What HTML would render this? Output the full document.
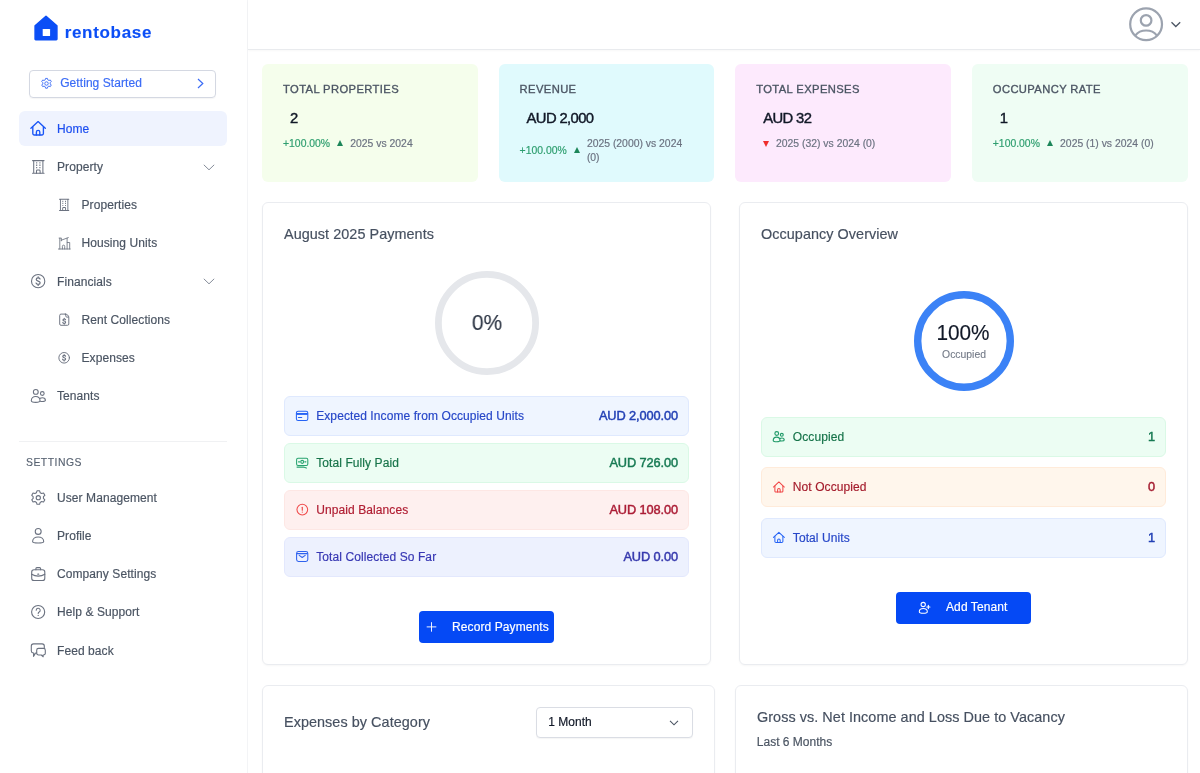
<!DOCTYPE html>
<html lang="en">
<head>
<meta charset="utf-8">
<title>Rentobase</title>
<style>
*{box-sizing:border-box;margin:0;padding:0}
html,body{width:1200px;height:773px;overflow:hidden;background:#fff}
body{font-family:"Liberation Sans",sans-serif;font-size:12px;color:#4b5563;position:relative;-webkit-text-stroke:.18px currentColor}
.abs{position:absolute}
svg{display:block;overflow:visible}
/* ---------- sidebar ---------- */
#side{position:absolute;left:0;top:0;width:248px;height:773px;border-right:1px solid #f3f4f6;background:#fff}
.logo-t{position:absolute;left:64.7px;top:22.5px;font-size:17px;font-weight:bold;color:#0b4ef6;letter-spacing:.68px;line-height:20px;-webkit-text-stroke:.12px #0b4ef6}
.gs{position:absolute;left:29.4px;top:69.6px;width:186.6px;height:28px;border:1px solid #d4d8e2;border-radius:4px;color:#3b6cf6;box-shadow:0 1px 1px rgba(0,0,0,.04)}
.gs span{position:absolute;left:29.8px;top:0;line-height:25.600px;font-size:12px;letter-spacing:.07px}
.nav{position:absolute;left:19px;width:208px;height:35px;border-radius:6px;color:#4b5563;font-size:12px;line-height:35px}
.nav.act{background:#eff3fe;color:#1d4ff0}
.nav .t{position:absolute;left:38px;top:.9px;white-space:nowrap;letter-spacing:.08px}
.nav.sub .t{left:62.5px}
.nav .ic{position:absolute;left:11px;top:9.5px;width:16px;height:16px}
.nav.sub .ic{left:38px;top:11.5px;width:12px;height:12px}
.nav .chev{position:absolute;left:184.400px;top:14.400px;width:12px;height:7px}
.sep{position:absolute;left:19px;top:441px;width:208px;height:1px;background:#f0f1f3}
.sett{position:absolute;left:26px;top:456.500px;font-size:10.400px;letter-spacing:.5px;color:#566170;line-height:12px;-webkit-text-stroke:.12px}
/* ---------- header ---------- */
#head{position:absolute;left:248px;top:0;width:952px;height:49.6px;border-bottom:1px solid #e9ebee;background:#fff;box-shadow:0 1px 2px rgba(0,0,0,.03)}
/* ---------- stat cards ---------- */
.stat{position:absolute;top:63.6px;width:215.8px;height:118px;border-radius:6px}
.stat .h{position:absolute;left:21px;top:18.4px;font-size:11.2px;letter-spacing:.4px;color:#4b5563;line-height:14px;white-space:nowrap;-webkit-text-stroke:.34px}
.stat .v{position:absolute;left:28px;top:45.3px;font-size:14.8px;-webkit-text-stroke:.42px;letter-spacing:-.62px;color:#111827;line-height:18px;white-space:nowrap}
.stat .d{position:absolute;left:21px;top:73.9px;font-size:10.4px;color:#6b7280;line-height:14px;white-space:nowrap;display:flex;align-items:center}
.stat .d .p{color:#2e9e6f}
.tri{width:0;height:0;border-left:3.7px solid transparent;border-right:3.7px solid transparent;border-bottom:6.2px solid #1c8659;margin:0 7.100px 0 7.100px;position:relative;top:-1.300px}
.tri.dn{border-bottom:0;border-top:6.2px solid #ef2d2d;margin:0 7px 0 6.8px;top:-.8px}
/* ---------- cards ---------- */
.card{position:absolute;background:#fff;border:1px solid #eaecf0;border-radius:6px;box-shadow:0 1px 2px rgba(0,0,0,.035)}
.card .ttl{position:absolute;left:21px;top:21.7px;font-size:14.4px;letter-spacing:.06px;color:#465060;line-height:18px;white-space:nowrap}
.row{position:absolute;left:21px;height:40px;border:1px solid;border-radius:6px;font-size:12px;line-height:38px;letter-spacing:.09px}
.row .ic{position:absolute;left:11px;top:12.6px;width:12px;height:12px}
.row .l{position:absolute;left:31.2px;top:-.3px;white-space:nowrap}
.row .r{position:absolute;right:9.9px;top:-.3px;letter-spacing:-.1px;white-space:nowrap;font-size:12.8px;-webkit-text-stroke:.45px}
#occ .row .l{top:-.3px;left:30.800px}
.blue{background:#eff5ff;border-color:#dfe9fe;color:#2747c8}.blue .r{color:#2240b5}
.green{background:#ecfdf3;border-color:#daf9e6;color:#17744a}.green .r{color:#177a53}
.red{background:#fef0ef;border-color:#fde7e4;color:#b01e33}.red .r{color:#ab1c35}
.indigo{background:#edf1fe;border-color:#e3e8fd;color:#3838b4}.indigo .r{color:#3538ad}
.orange{background:#fff6ec;border-color:#ffebda;color:#a51d2d}.orange .r{color:#a51c30}
.btn{position:absolute;background:#0549f5;border-radius:4px;color:#fff;font-size:12px;line-height:32px;white-space:nowrap;letter-spacing:.1px}
.sel{position:absolute;border:1px solid #dadde4;border-radius:4px;background:#fff;color:#111827;font-size:12px;box-shadow:0 1px 1px rgba(0,0,0,.04)}
</style>
</head>
<body>
<div id="wrap" style="position:absolute;left:0;top:0;width:1200px;height:773px;will-change:transform">

<!-- ================= SIDEBAR ================= -->
<div id="side">
  <svg class="abs" style="left:34px;top:15px" width="24" height="26" viewBox="0 0 24 26"><path d="M12 1.300 22.900 10.800V24.100a.6.600 0 0 1-.6.600H1.700a.6.600 0 0 1-.6-.6V10.800Z" fill="#0b4ef6" stroke="#0b4ef6" stroke-width="1.500" stroke-linejoin="round"/><rect x="8.700" y="13.900" width="7.400" height="7.200" rx=".7" fill="#fff"/></svg>
  <div class="logo-t">rentobase</div>

  <div class="gs">
    <svg class="abs" style="left:9.200px;top:6px" width="13" height="13" viewBox="0 0 24 24" fill="none" stroke="#3b6cf6" stroke-width="1.7"><circle cx="12" cy="12" r="3.2"/><path d="M10.3 2.6h3.4l.7 2.7 2 1.1 2.700-.8 1.700 2.900-2 2v2.300l2 2-1.700 2.900-2.700-.8-2 1.100-.7 2.700h-3.400l-.7-2.700-2-1.100-2.700.8-1.700-2.900 2-2v-2.300l-2-2 1.700-2.900 2.700.8 2-1.100z" stroke-linejoin="round"/></svg>
    <span>Getting Started</span>
    <svg class="abs" style="left:166.3px;top:7.200px" width="7" height="11" viewBox="0 0 7 11" fill="none" stroke="#3b6cf6" stroke-width="1.2"><path d="M1 1l4.800 4.500L1 10"/></svg>
  </div>

  <div class="nav act" style="top:111px"><span class="t">Home</span></div>
  <div class="nav" style="top:149.200px"><span class="t">Property</span><svg class="chev" viewBox="0 0 12 7" fill="none" stroke="#858c99" stroke-width="1"><path d="M.8.800 6 5.800 11.200.800"/></svg></div>
  <div class="nav sub" style="top:187.400px"><span class="t">Properties</span></div>
  <div class="nav sub" style="top:225.600px"><span class="t">Housing Units</span></div>
  <div class="nav" style="top:263.800px"><span class="t">Financials</span><svg class="chev" viewBox="0 0 12 7" fill="none" stroke="#858c99" stroke-width="1"><path d="M.8.800 6 5.800 11.200.800"/></svg></div>
  <div class="nav sub" style="top:302px"><span class="t">Rent Collections</span></div>
  <div class="nav sub" style="top:340.200px"><span class="t">Expenses</span></div>
  <div class="nav" style="top:378.400px"><span class="t">Tenants</span></div>

  <div class="sep"></div>
  <div class="sett">SETTINGS</div>

  <div class="nav" style="top:480px"><span class="t">User Management</span></div>
  <div class="nav" style="top:518.200px"><span class="t">Profile</span></div>
  <div class="nav" style="top:556.400px"><span class="t">Company Settings</span></div>
  <div class="nav" style="top:594.600px"><span class="t">Help &amp; Support</span></div>
  <div class="nav" style="top:632.800px"><span class="t">Feed back</span></div>
</div>

<!-- ================= HEADER ================= -->
<div id="head">
  <svg class="abs" style="left:881px;top:7px" width="35" height="35" viewBox="0 0 35 35" fill="none" stroke="#9ca3af" stroke-width="2.200"><circle cx="17.100" cy="17.200" r="15.900"/><circle cx="17.100" cy="13.400" r="5.300"/><path d="M6.400 28.400c2.600-3.500 6.400-4.900 10.700-4.900s8.100 1.400 10.700 4.900"/></svg>
  <svg class="abs" style="left:922px;top:21px" width="12" height="7" viewBox="0 0 12 7" fill="none" stroke="#4b5563" stroke-width="1.300"><path d="M1.500 1.300 5.800 5.500 10.200 1.300"/></svg>
</div>

<!-- ================= STAT CARDS ================= -->
<div class="stat" style="left:262px;background:#f5feec">
  <div class="h">TOTAL PROPERTIES</div><div class="v">2</div>
  <div class="d"><span class="p">+100.00%</span><i class="tri"></i><span>2025 vs 2024</span></div>
</div>
<div class="stat" style="left:498.6px;background:#e0fafd">
  <div class="h">REVENUE</div><div class="v">AUD 2,000</div>
  <div class="d" style="top:73.9px"><span class="p">+100.00%</span><i class="tri"></i><span style="white-space:normal;width:110px;line-height:14px">2025 (2000) vs 2024 (0)</span></div>
</div>
<div class="stat" style="left:735.2px;background:#fdeafd">
  <div class="h">TOTAL EXPENSES</div><div class="v">AUD 32</div>
  <div class="d"><span class="p"></span><i class="tri dn"></i><span>2025 (32) vs 2024 (0)</span></div>
</div>
<div class="stat" style="left:971.8px;background:#effdf4">
  <div class="h">OCCUPANCY RATE</div><div class="v">1</div>
  <div class="d"><span class="p">+100.00%</span><i class="tri"></i><span>2025 (1) vs 2024 (0)</span></div>
</div>

<!-- ================= PAYMENTS CARD ================= -->
<div class="card" id="pay" style="left:262px;top:202px;width:449px;height:463px">
  <div class="ttl">August 2025 Payments</div>
  <svg class="abs" style="left:171.200px;top:66.700px" width="106" height="106" viewBox="0 0 106 106"><circle cx="53" cy="53" r="48.600" fill="none" stroke="#e5e7eb" stroke-width="6.800"/></svg>
  <div class="abs" style="left:173.600px;top:107.300px;width:100px;text-align:center;font-size:22.800px;line-height:24px;color:#2a3342;-webkit-text-stroke:.15px;transform:scaleX(.912)">0%</div>

  <div class="row blue" style="top:193px;width:405px"><span class="l">Expected Income from Occupied Units</span><span class="r">AUD 2,000.00</span></div>
  <div class="row green" style="top:240px;width:405px"><span class="l">Total Fully Paid</span><span class="r">AUD 726.00</span></div>
  <div class="row red" style="top:287px;width:405px"><span class="l">Unpaid Balances</span><span class="r">AUD 108.00</span></div>
  <div class="row indigo" style="top:334px;width:405px"><span class="l">Total Collected So Far</span><span class="r">AUD 0.00</span></div>

  <div class="btn" style="left:155.500px;top:408px;width:135px;height:32px">
    <span class="abs" style="left:33.500px;top:0">Record Payments</span>
  </div>
</div>

<!-- ================= OCCUPANCY CARD ================= -->
<div class="card" id="occ" style="left:739px;top:202px;width:449px;height:463px">
  <div class="ttl">Occupancy Overview</div>
  <svg class="abs" style="left:173px;top:86.800px" width="102" height="102" viewBox="0 0 102 102"><circle cx="51" cy="51" r="46.300" fill="none" stroke="#3b82f6" stroke-width="7.400"/></svg>
  <div class="abs" style="left:172.900px;top:117.900px;width:100px;text-align:center;font-size:22.500px;line-height:24px;color:#111827;-webkit-text-stroke:.15px;transform:scaleX(.924)">100%</div>
  <div class="abs" style="left:174px;top:145.400px;width:100px;text-align:center;font-size:10.400px;line-height:14px;color:#727986;-webkit-text-stroke:.1px">Occupied</div>

  <div class="row green" style="top:214px;width:405px"><span class="l">Occupied</span><span class="r">1</span></div>
  <div class="row orange" style="top:264px;width:405px"><span class="l">Not Occupied</span><span class="r">0</span></div>
  <div class="row blue" style="top:315px;width:405px"><span class="l">Total Units</span><span class="r">1</span></div>

  <div class="btn" style="left:156px;top:389px;width:135px;height:31.500px;line-height:31.500px">
    <span class="abs" style="left:50px;top:0">Add Tenant</span>
  </div>
</div>

<!-- ================= BOTTOM CARDS ================= -->
<div class="card" style="left:262px;top:685px;width:452.500px;height:120px">
  <div class="ttl" style="top:26.500px">Expenses by Category</div>
  <div class="sel" style="left:273px;top:21px;width:157px;height:31px"><span class="abs" style="left:11.300px;top:0;line-height:29.200px">1 Month</span>
    <svg class="abs" style="left:132px;top:12px" width="10" height="6" viewBox="0 0 10 6" fill="none" stroke="#4b5563" stroke-width="1.100"><path d="M1 .8 5 4.800 9 .8"/></svg></div>
</div>
<div class="card" style="left:735px;top:685px;width:453px;height:120px">
  <div class="ttl" style="top:21.500px">Gross vs. Net Income and Loss Due to Vacancy</div>
  <div class="abs" style="left:20.800px;top:48px;font-size:12px;line-height:16px;color:#4b5563">Last 6 Months</div>
</div>


<!-- ================= ICON OVERLAY (page coordinates) ================= -->
<svg id="ico" class="abs" style="left:0;top:0;pointer-events:none" width="1200" height="773" viewBox="0 0 1200 773" fill="none" stroke-linecap="round" stroke-linejoin="round">
<defs>
  <g id="g-home"><path d="M.8 8 8 1.300 15.200 8"/><path d="M2.700 6.600V13.200a1.500 1.500 0 0 0 1.500 1.500H11.800a1.500 1.500 0 0 0 1.500-1.500V6.600"/><path d="M6.300 14.700V11.700a1.700 1.700 0 0 1 3.400 0V14.700"/></g>
  <g id="g-bld"><path d="M1.600 1.100H14.400M1.600 14.700H14.400M2.900 1.100V14.700M13.100 1.100V14.700"/><path d="M5.600 3.600h1.200M9.200 3.600h1.200M5.600 6.100h1.200M9.200 6.100h1.200M5.600 8.600h1.200M9.200 8.600h1.200" stroke-linecap="butt" stroke-width="1.400"/><path d="M6 14.700V12.200a1 1 0 0 1 1-1h2a1 1 0 0 1 1 1V14.700"/></g>
  <g id="g-ppl"><circle cx="5.300" cy="3.500" r="2.400"/><circle cx="11.800" cy="5.100" r="1.850"/><path d="M.8 12.400C.8 9.800 2.700 8.100 5.150 8.100S9.500 9.800 9.500 12.400C9.500 13.600 7.600 14 5.150 14S.8 13.600 .8 12.400Z"/><path d="M9.700 9.900C10.300 9.500 11 9.300 11.800 9.300 13.600 9.300 14.900 10.400 14.900 11.900 14.900 12.800 13.600 13.100 11.800 13.100 11 13.100 10.400 13.050 9.900 12.900"/></g>
  <g id="g-dollar"><path d="M9.900 5.900C9.600 5.200 8.900 4.800 8 4.800 6.900 4.800 6.100 5.400 6.100 6.300 6.100 8.300 10 7.500 10 9.600 10 10.600 9.100 11.200 8 11.200 7 11.200 6.200 10.700 5.900 9.900M8 3.700V4.800M8 11.200V12.300"/></g>
</defs>

<!-- sidebar -->
<use href="#g-home" transform="translate(30.100 120.300)" stroke="#1a56f6" stroke-width="1.350"/>
<use href="#g-bld" transform="translate(31.100 159.600) scale(.9 .93)" stroke="#6b7280" stroke-width="1.150"/>
<use href="#g-bld" transform="translate(58.300 198.400) scale(.73 .82)" stroke="#6b7280" stroke-width="1.250"/>
<!-- housing units -->
<g stroke="#6b7280" stroke-width=".85">
  <path d="M58.400 249H70.200M59.800 249V238.300M59.100 238.100h1.800M61.300 240.200 68.300 237.600M61.300 238.300V240.800M67.100 238.200V249M67.300 242.500H69.700V249M62.400 249V246.300a1.150 1.150 0 0 1 2.300 0V249"/>
</g>
<!-- financials -->
<g stroke="#6b7280" stroke-width="1.100"><circle cx="38.150" cy="281.150" r="6.650"/><use href="#g-dollar" transform="translate(30.150 273.150)" stroke-width="1.250"/></g>
<!-- rent collections -->
<g stroke="#6b7280" stroke-width=".95" transform="translate(0 -.6)"><path d="M65.300 314.700H61a1.300 1.300 0 0 0-1.300 1.300V324.600a1.300 1.300 0 0 0 1.300 1.300H67.500a1.300 1.300 0 0 0 1.300-1.300V318.200C68.800 316.200 67.300 314.700 65.300 314.700Z"/><path d="M65.800 314.900V316.700a1 1 0 0 0 1 1H68.600"/><use href="#g-dollar" transform="translate(58.800 316.300) scale(.68)" stroke-width="1.700"/></g>
<!-- expenses -->
<g stroke="#6b7280" stroke-width=".95"><circle cx="64.150" cy="357.800" r="5.300"/><use href="#g-dollar" transform="translate(58.250 351.900) scale(.7375)" stroke-width="1.550"/></g>
<!-- tenants -->
<use href="#g-ppl" transform="translate(30.500 388.400)" stroke="#6b7280" stroke-width="1.100"/>
<!-- user management gear -->
<g stroke="#6b7280" stroke-width="1.100" transform="translate(38.300 497.700)">
  <circle r="2.100"/>
  <path d="M-1.300-6.900h2.600l.55 1.900 1.500.85 1.900-.5 1.300 2.250-1.400 1.400v1.700l1.400 1.400-1.300 2.250-1.900-.5-1.500.85-.55 1.900h-2.600l-.55-1.900-1.500-.85-1.900.5-1.300-2.250 1.400-1.400v-1.700l-1.400-1.400 1.300-2.250 1.900.5 1.500-.85z"/>
</g>
<!-- profile -->
<g stroke="#6b7280" stroke-width="1.100"><circle cx="38.200" cy="531.400" r="2.950"/><path d="M32.600 541.500C32.600 538.800 35 537 38.150 537S43.700 538.800 43.700 541.500C43.700 542.600 41.300 542.950 38.150 542.950S32.600 542.600 32.600 541.500Z"/></g>
<!-- company -->
<g stroke="#6b7280" stroke-width="1.100"><rect x="31.700" y="569.700" width="13.100" height="10.800" rx="2.300"/><path d="M35.900 569.700V568.600a1 1 0 0 1 1-1H39.600a1 1 0 0 1 1 1V569.700"/><path d="M31.700 574.200C34 575.700 36 576.100 38.250 576.100S42.500 575.700 44.800 574.200"/><path d="M37.800 574.200h.9" stroke-width="1.200"/></g>
<!-- help -->
<g stroke="#6b7280" stroke-width="1.100"><circle cx="38.150" cy="612" r="6.550"/><path d="M36.200 610.300a2 2 0 1 1 3 1.700c-.7.400-1 .8-1 1.500" stroke-width="1.050"/><path d="M38.200 615.300v.2" stroke-width="1.200"/></g>
<!-- feedback -->
<g stroke="#6b7280" stroke-width="1.100"><path d="M36.700 653H35.600L33.500 656.400 33.800 653H33.300A2.200 2.200 0 0 1 31.300 650.800V646.100A2.200 2.200 0 0 1 33.500 643.900H42.100A2.200 2.200 0 0 1 44.300 646.100V648.300"/><path d="M38.500 648.400H43.500A1.800 1.800 0 0 1 45.300 650.200V653.200A1.800 1.800 0 0 1 43.500 655H43L43.200 656.800 41.300 655H38.500A1.800 1.800 0 0 1 36.700 653.200V650.200A1.800 1.800 0 0 1 38.500 648.400Z"/></g>

<!-- payment rows -->
<g stroke="#2563f5" stroke-width="1.050"><rect x="296.400" y="411.250" width="11.400" height="9.300" rx="1.700"/><path d="M296.400 413.950H307.800" stroke-width="1.900" stroke-linecap="butt"/><path d="M298.400 417.500H301.700" stroke-width="1.100"/></g>
<g stroke="#27a36f" stroke-width="1.050"><rect x="296.600" y="458.300" width="11.200" height="7.100" rx="1.400"/><circle cx="302.200" cy="461.850" r="1.500"/><path d="M298.500 461.850h1.100M304.800 461.850h1.100"/><path d="M297 467.100H303.500L306.400 468.100"/></g>
<g stroke="#f04a4a" stroke-width="1.050"><circle cx="302.300" cy="509.600" r="5.350"/><path d="M302.300 507.300V510.200" stroke-width="1.150"/><path d="M302.300 512v.1" stroke-width="1.250"/></g>
<g stroke="#2f62ee" stroke-width="1.050"><rect x="296.600" y="551.500" width="11.200" height="10" rx="1.900"/><path d="M297 553.600H307.400"/><path d="M299.200 555.400 302.200 557.500 305.200 555.400"/></g>

<!-- occupancy rows -->
<use href="#g-ppl" transform="translate(772.600 430.800) scale(.78)" stroke="#1f9a68" stroke-width="1.450"/>
<use href="#g-home" transform="translate(772.850 481) scale(.755)" stroke="#f04444" stroke-width="1.350"/>
<use href="#g-home" transform="translate(772.850 531.400) scale(.755)" stroke="#2563f5" stroke-width="1.350"/>

<!-- buttons -->
<path d="M426.700 626.900H436.300M431.500 622.200V631.700" stroke="#fff" stroke-width="1" stroke-opacity=".92" stroke-linecap="butt"/>
<g stroke="#fff" stroke-width="1.050"><circle cx="923.200" cy="604.500" r="2.150"/><path d="M919.300 611.700C919.300 609.600 921 608.500 923.300 608.500S927.300 609.600 927.300 611.700C927.300 613 925.400 613.300 923.300 613.300S919.300 613 919.300 611.700Z"/><path d="M926.800 607H929.900M928.350 605.450V608.550" stroke-width="1.200"/></g>
</svg>
</div>
</body>
</html>
